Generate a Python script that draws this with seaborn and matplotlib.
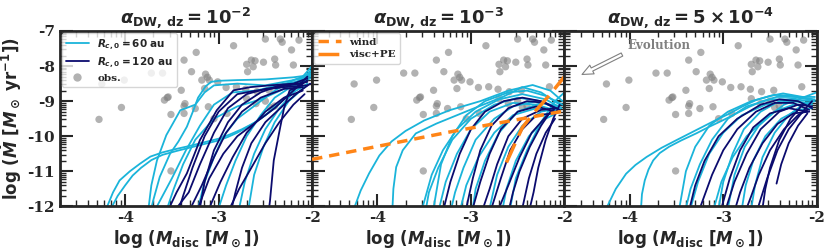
import numpy as np
import pandas as pd
import matplotlib
matplotlib.use("Agg")
import matplotlib.pyplot as plt
from matplotlib.lines import Line2D
from matplotlib.ticker import FuncFormatter, LogLocator, NullFormatter
import seaborn as sns

sns.set_style("ticks")
plt.rcParams["font.family"] = ["DejaVu Serif"]
plt.rcParams["font.weight"] = "bold"
plt.rcParams["axes.labelweight"] = "bold"
plt.rcParams["axes.titleweight"] = "bold"
plt.rcParams["mathtext.fontset"] = "custom"
plt.rcParams["mathtext.rm"] = "DejaVu Sans:bold"
plt.rcParams["mathtext.bf"] = "DejaVu Sans:bold"
plt.rcParams["mathtext.it"] = "DejaVu Sans:italic:bold"

LIGHT = "#1ab4da"
DARK = "#0b0b6e"
ORANGE = "#ff8517"

titles = [r"$\alpha_{\rm DW,\,dz} = 10^{-2}$",
          r"$\alpha_{\rm DW,\,dz} = 10^{-3}$",
          r"$\alpha_{\rm DW,\,dz} = 5 \times 10^{-4}$"]

# observations (log10 M_disc, log10 Mdot)
obs_logm = [-2.84, -2.50, -2.34, -2.32, -2.14, -3.24, -2.22, -3.37, -2.65, -2.61,
            -2.52, -2.40, -2.70, -2.63, -2.39, -2.20, -3.72, -3.60, -3.29, -3.14,
            -3.12, -3.18, -3.10, -3.01, -2.69, -4.01, -4.25, -3.40, -3.15, -2.92,
            -2.81, -2.71, -2.59, -2.46, -2.16, -3.55, -3.54, -3.58, -3.36, -3.37,
            -3.25, -3.11, -4.04, -2.70, -2.60, -2.50, -2.45, -2.40, -3.51, -3.37,
            -3.05, -2.91, -4.28, -3.51]
obs_logmdot = [-7.42, -7.23, -7.23, -7.32, -7.26, -7.61, -7.54, -7.83, -7.83, -7.85,
               -7.89, -7.80, -7.95, -8.02, -7.97, -7.97, -8.20, -8.20, -8.16, -8.23,
               -8.32, -8.40, -8.40, -8.45, -8.16, -8.40, -8.51, -8.69, -8.64, -8.61,
               -8.59, -8.66, -8.73, -8.69, -8.59, -8.90, -8.88, -8.97, -9.07, -9.14,
               -9.21, -9.16, -9.18, -8.93, -9.07, -9.00, -9.18, -9.14, -9.38, -9.35,
               -9.50, -9.35, -9.52, -10.99]

# model tracks, [log M_disc, log Mdot] pairs
p1_light = [
    [[-2.00, -8.00], [-2.05, -8.15], [-2.10, -8.30], [-2.18, -8.55], [-2.25, -8.80], [-2.38, -9.12], [-2.50, -9.40], [-2.62, -9.62], [-2.75, -9.80], [-2.88, -9.95], [-3.00, -10.07], [-3.15, -10.17], [-3.30, -10.27], [-3.45, -10.36], [-3.60, -10.46], [-3.73, -10.58], [-3.84, -10.78], [-3.95, -11.00], [-4.06, -11.26], [-4.13, -11.60], [-4.20, -12.05]],
    [[-2.00, -8.10], [-2.06, -8.28], [-2.12, -8.45], [-2.20, -8.70], [-2.30, -8.95], [-2.42, -9.24], [-2.55, -9.50], [-2.68, -9.72], [-2.80, -9.90], [-2.90, -10.02], [-3.00, -10.12], [-3.15, -10.22], [-3.30, -10.32], [-3.45, -10.42], [-3.60, -10.53], [-3.72, -10.68], [-3.83, -10.90], [-3.92, -11.12], [-4.00, -11.40], [-4.08, -11.70], [-4.15, -12.05]],
    [[-2.00, -8.25], [-2.20, -8.32], [-2.50, -8.38], [-2.80, -8.40], [-3.00, -8.42], [-3.08, -8.45], [-3.14, -8.58], [-3.22, -8.90], [-3.27, -9.26], [-3.34, -9.73], [-3.43, -10.15], [-3.52, -10.50], [-3.63, -11.16], [-3.70, -11.83], [-3.72, -12.05]],
    [[-2.02, -8.30], [-2.20, -8.40], [-2.50, -8.55], [-2.80, -8.50], [-3.05, -8.55], [-3.15, -8.75], [-3.25, -9.10], [-3.41, -9.26], [-3.56, -9.97], [-3.66, -10.69], [-3.72, -11.40], [-3.75, -12.05]],
    [[-2.05, -8.40], [-2.30, -8.50], [-2.60, -8.70], [-2.85, -8.75], [-3.05, -9.10], [-3.20, -9.70], [-3.35, -10.40], [-3.50, -11.20], [-3.60, -11.70], [-3.67, -12.05]],
    [[-2.00, -8.20], [-2.20, -8.40], [-2.40, -8.70], [-2.60, -9.10], [-2.80, -9.50], [-2.95, -10.00], [-3.05, -10.60], [-3.15, -11.30], [-3.22, -12.05]],
    [[-2.02, -8.35], [-2.20, -8.55], [-2.40, -8.90], [-2.55, -9.40], [-2.70, -10.00], [-2.82, -10.70], [-2.92, -11.40], [-3.00, -12.05]],
    [[-2.05, -8.50], [-2.20, -8.75], [-2.35, -9.20], [-2.50, -9.80], [-2.62, -10.50], [-2.72, -11.30], [-2.78, -12.05]],
    [[-2.08, -8.60], [-2.25, -9.00], [-2.40, -9.60], [-2.52, -10.30], [-2.62, -11.10], [-2.68, -12.05]],
    [[-2.00, -8.10], [-2.10, -8.35], [-2.30, -8.65], [-2.55, -8.95], [-2.80, -9.15], [-3.05, -9.50], [-3.25, -10.10], [-3.38, -10.80], [-3.48, -11.50], [-3.55, -12.05]],
]
p1_dark = [
    [[-2.05, -8.35], [-2.20, -8.50], [-2.45, -8.55], [-2.66, -8.60], [-2.84, -8.69], [-3.02, -9.26], [-3.20, -10.11], [-3.34, -11.06], [-3.45, -11.60], [-3.53, -12.05]],
    [[-2.05, -8.45], [-2.25, -8.55], [-2.50, -8.65], [-2.70, -8.80], [-2.90, -9.20], [-3.05, -9.90], [-3.20, -10.80], [-3.32, -11.60], [-3.45, -12.05]],
    [[-2.10, -8.60], [-2.30, -8.65], [-2.55, -8.90], [-2.75, -9.30], [-2.92, -9.90], [-3.05, -10.60], [-3.18, -11.40], [-3.30, -12.05]],
    [[-2.05, -8.30], [-2.20, -8.70], [-2.40, -9.20], [-2.60, -9.60], [-2.80, -10.00], [-2.95, -10.50], [-3.10, -11.20], [-3.22, -12.05]],
    [[-2.10, -8.70], [-2.30, -8.90], [-2.50, -9.30], [-2.70, -9.90], [-2.85, -10.60], [-2.98, -11.30], [-3.10, -12.05]],
    [[-2.08, -8.80], [-2.20, -9.10], [-2.35, -9.60], [-2.50, -10.20], [-2.65, -10.90], [-2.78, -11.50], [-2.88, -12.05]],
    [[-2.05, -8.40], [-2.15, -8.60], [-2.24, -8.69], [-2.30, -9.20], [-2.34, -9.73], [-2.41, -10.69], [-2.45, -11.83], [-2.46, -12.05]],
    [[-2.02, -8.50], [-2.15, -8.75], [-2.30, -9.10], [-2.50, -9.60], [-2.65, -10.20], [-2.75, -10.90], [-2.82, -11.60], [-2.86, -12.05]],
    [[-2.05, -8.55], [-2.30, -8.60], [-2.60, -8.70], [-2.80, -8.80], [-3.00, -9.30], [-3.15, -10.00], [-3.28, -10.90], [-3.38, -11.70], [-3.42, -12.05]],
    [[-2.10, -8.50], [-2.35, -8.55], [-2.55, -8.75], [-2.75, -9.10], [-2.90, -9.60], [-3.05, -10.40], [-3.15, -11.30], [-3.20, -12.05]],
]
p2_light = [
    [[-2.02, -9.00], [-2.15, -8.70], [-2.34, -8.54], [-2.60, -8.70], [-2.90, -9.00], [-3.23, -9.26], [-3.50, -9.55], [-3.70, -9.85], [-3.85, -10.15], [-3.98, -10.55], [-4.09, -11.06], [-4.18, -11.55], [-4.25, -12.05]],
    [[-2.05, -9.10], [-2.25, -8.75], [-2.45, -8.60], [-2.66, -8.88], [-3.02, -9.26], [-3.37, -9.64], [-3.59, -9.92], [-3.73, -10.40], [-3.80, -10.88], [-3.83, -11.50], [-3.84, -12.05]],
    [[-2.03, -9.20], [-2.20, -8.95], [-2.45, -8.80], [-2.70, -8.95], [-2.95, -9.30], [-3.15, -9.80], [-3.30, -10.40], [-3.42, -11.10], [-3.52, -12.05]],
    [[-2.05, -9.25], [-2.25, -9.00], [-2.50, -8.90], [-2.75, -9.10], [-3.00, -9.50], [-3.20, -10.10], [-3.35, -10.90], [-3.45, -11.60], [-3.48, -12.05]],
    [[-2.02, -9.10], [-2.20, -8.85], [-2.40, -8.70], [-2.60, -8.75], [-2.85, -9.00], [-3.05, -9.40], [-3.20, -10.00], [-3.32, -10.80], [-3.40, -12.05]],
    [[-2.05, -9.30], [-2.30, -9.10], [-2.55, -9.05], [-2.80, -9.30], [-3.00, -9.80], [-3.15, -10.50], [-3.27, -11.30], [-3.34, -12.05]],
    [[-2.05, -9.20], [-2.30, -9.00], [-2.55, -9.15], [-2.75, -9.50], [-2.95, -10.10], [-3.08, -10.90], [-3.17, -11.60], [-3.21, -12.05]],
    [[-2.08, -9.30], [-2.30, -9.20], [-2.55, -9.40], [-2.75, -9.90], [-2.92, -10.60], [-3.05, -11.40], [-3.11, -12.05]],
    [[-2.05, -9.15], [-2.25, -9.05], [-2.50, -9.30], [-2.70, -9.90], [-2.85, -10.70], [-2.95, -11.50], [-2.98, -12.05]],
    [[-2.05, -9.20], [-2.25, -9.30], [-2.45, -9.70], [-2.60, -10.30], [-2.72, -11.10], [-2.80, -12.05]],
    [[-2.05, -9.30], [-2.20, -9.50], [-2.38, -10.00], [-2.52, -10.70], [-2.62, -11.50], [-2.66, -12.05]],
    [[-2.00, -8.75], [-2.10, -9.00], [-2.25, -9.60], [-2.40, -10.40], [-2.52, -11.20], [-2.58, -12.05]],
]
p2_dark = [
    [[-2.10, -9.20], [-2.25, -9.00], [-2.45, -8.90], [-2.65, -9.00], [-2.85, -9.30], [-3.00, -9.80], [-3.12, -10.50], [-3.22, -11.30], [-3.29, -12.05]],
    [[-2.05, -9.25], [-2.20, -9.05], [-2.40, -9.00], [-2.60, -9.20], [-2.78, -9.70], [-2.90, -10.40], [-2.98, -11.20], [-3.05, -12.05]],
    [[-2.10, -9.30], [-2.30, -9.15], [-2.50, -9.30], [-2.68, -9.80], [-2.80, -10.50], [-2.90, -11.30], [-2.98, -12.05]],
    [[-2.08, -9.20], [-2.25, -9.25], [-2.45, -9.50], [-2.60, -10.00], [-2.72, -10.80], [-2.80, -11.50], [-2.87, -12.05]],
    [[-2.12, -9.35], [-2.30, -9.40], [-2.45, -9.80], [-2.58, -10.40], [-2.68, -11.20], [-2.78, -12.05]],
    [[-2.10, -9.20], [-2.20, -9.45], [-2.35, -9.90], [-2.48, -10.60], [-2.60, -11.40], [-2.70, -12.05]],
    [[-2.15, -9.30], [-2.25, -9.70], [-2.37, -10.30], [-2.48, -11.00], [-2.55, -11.60], [-2.59, -12.05]],
    [[-2.10, -9.50], [-2.20, -9.90], [-2.30, -10.50], [-2.38, -11.20], [-2.45, -12.05]],
    [[-2.05, -9.10], [-2.12, -9.50], [-2.20, -10.10], [-2.28, -10.90], [-2.33, -11.60], [-2.37, -12.05]],
]
p3_light = [
    [[-2.02, -8.88], [-2.15, -8.88], [-2.36, -8.78], [-2.50, -8.85], [-2.65, -8.97], [-2.80, -9.16], [-2.93, -9.35], [-3.08, -9.54], [-3.22, -9.73], [-3.36, -9.92], [-3.50, -10.11], [-3.66, -10.33], [-3.82, -10.59], [-3.94, -10.82], [-4.04, -11.07], [-4.15, -11.50], [-4.25, -12.05]],
    [[-2.04, -8.97], [-2.22, -8.88], [-2.43, -8.88], [-2.58, -9.00], [-2.72, -9.16], [-2.86, -9.35], [-3.00, -9.54], [-3.15, -9.73], [-3.29, -9.92], [-3.45, -10.12], [-3.58, -10.30], [-3.68, -10.48], [-3.75, -10.69], [-3.80, -10.95], [-3.84, -11.26], [-3.87, -11.65], [-3.88, -12.05]],
    [[-2.05, -8.95], [-2.25, -8.85], [-2.45, -8.82], [-2.70, -9.00], [-2.95, -9.30], [-3.15, -9.70], [-3.30, -10.30], [-3.40, -11.00], [-3.47, -12.05]],
    [[-2.03, -9.00], [-2.25, -8.95], [-2.50, -8.95], [-2.75, -9.15], [-2.95, -9.50], [-3.12, -10.10], [-3.25, -10.80], [-3.35, -11.50], [-3.40, -12.05]],
    [[-2.05, -9.05], [-2.30, -9.00], [-2.55, -9.10], [-2.80, -9.40], [-3.00, -9.90], [-3.15, -10.50], [-3.27, -11.30], [-3.35, -12.05]],
    [[-2.02, -8.95], [-2.20, -8.90], [-2.40, -9.00], [-2.60, -9.30], [-2.78, -9.80], [-2.90, -10.50], [-3.00, -11.30], [-3.05, -12.05]],
    [[-2.05, -9.10], [-2.25, -9.10], [-2.45, -9.30], [-2.62, -9.70], [-2.77, -10.30], [-2.88, -11.10], [-2.95, -12.05]],
    [[-2.05, -9.20], [-2.20, -9.25], [-2.38, -9.50], [-2.55, -10.00], [-2.68, -10.70], [-2.76, -11.40], [-2.80, -12.05]],
    [[-2.02, -9.00], [-2.15, -9.10], [-2.30, -9.40], [-2.45, -9.90], [-2.58, -10.60], [-2.66, -11.40], [-2.70, -12.05]],
    [[-2.00, -8.75], [-2.15, -8.90], [-2.35, -9.10], [-2.55, -9.50], [-2.75, -10.00], [-2.90, -10.60], [-3.02, -11.30], [-3.10, -12.05]],
]
p3_dark = [
    [[-2.05, -9.20], [-2.20, -9.00], [-2.40, -8.95], [-2.60, -9.10], [-2.85, -9.50], [-3.05, -10.00], [-3.20, -10.70], [-3.30, -11.40], [-3.36, -12.05]],
    [[-2.08, -9.25], [-2.25, -9.05], [-2.45, -9.05], [-2.65, -9.30], [-2.85, -9.80], [-3.00, -10.40], [-3.12, -11.10], [-3.25, -12.05]],
    [[-2.10, -9.30], [-2.30, -9.20], [-2.50, -9.35], [-2.68, -9.75], [-2.82, -10.40], [-2.93, -11.20], [-3.02, -12.05]],
    [[-2.05, -9.15], [-2.20, -9.10], [-2.40, -9.30], [-2.60, -9.80], [-2.75, -10.50], [-2.88, -11.30], [-2.97, -12.05]],
    [[-2.08, -9.30], [-2.25, -9.35], [-2.42, -9.65], [-2.58, -10.20], [-2.72, -10.90], [-2.82, -11.60], [-2.87, -12.05]],
    [[-2.10, -9.25], [-2.20, -9.40], [-2.35, -9.80], [-2.50, -10.40], [-2.62, -11.10], [-2.70, -11.70], [-2.75, -12.05]],
    [[-2.05, -9.00], [-2.15, -9.30], [-2.30, -9.80], [-2.42, -10.40], [-2.53, -11.20], [-2.63, -12.05]],
    [[-2.10, -9.35], [-2.20, -9.70], [-2.30, -10.20], [-2.38, -10.80], [-2.43, -11.35]],
    [[-2.15, -9.10], [-2.28, -9.50], [-2.40, -10.10], [-2.50, -10.90], [-2.55, -11.50], [-2.58, -12.05]],
]

# analytic comparison tracks in panel 2
wind_logm = [-4.70, -3.23, -2.00]
wind_logmdot = [-10.66, -9.88, -9.28]
viscpe_logm = [-2.62, -2.45, -2.30, -2.15, -2.00]
viscpe_logmdot = [-10.75, -9.75, -9.25, -8.80, -8.30]

panels = [(p1_light, p1_dark), (p2_light, p2_dark), (p3_light, p3_dark)]

rows = []
for pi, (light, dark) in enumerate(panels):
    for grp, curves in (("60", light), ("120", dark)):
        for ci, pts in enumerate(curves):
            for lm, lmd in pts:
                rows.append({"panel": pi, "Rc": grp, "cid": f"{grp}_{ci}",
                             "M": 10 ** lm, "Mdot": 10 ** lmd})
tracks = pd.DataFrame(rows)
obs = pd.DataFrame({"M": 10 ** np.array(obs_logm), "Mdot": 10 ** np.array(obs_logmdot)})

fig, axes = plt.subplots(1, 3, figsize=(8.3, 2.52), dpi=100, sharey=True)
fig.subplots_adjust(left=0.072, right=0.984, top=0.877, bottom=0.181, wspace=0)

fmt = FuncFormatter(lambda v, p: f"{int(round(np.log10(v)))}")
for pi, ax in enumerate(axes):
    ax.set_xscale("log")
    ax.set_yscale("log")
    sns.scatterplot(data=obs, x="M", y="Mdot", color="grey", alpha=0.6, s=28,
                    edgecolor="none", ax=ax, zorder=1)
    sns.lineplot(data=tracks[tracks.panel == pi], x="M", y="Mdot", hue="Rc",
                 units="cid", estimator=None, sort=False,
                 palette={"60": LIGHT, "120": DARK}, lw=1.3, legend=False,
                 ax=ax, zorder=2)
    ax.set_xlim(10 ** -4.70, 1e-2)
    ax.set_ylim(1e-12, 1e-7)
    ax.xaxis.set_major_locator(LogLocator(base=10, numticks=10))
    ax.xaxis.set_minor_locator(LogLocator(base=10, subs=np.arange(2, 10), numticks=20))
    ax.yaxis.set_minor_locator(LogLocator(base=10, subs=np.arange(2, 10), numticks=20))
    ax.xaxis.set_major_formatter(fmt)
    ax.yaxis.set_major_formatter(fmt)
    ax.xaxis.set_minor_formatter(NullFormatter())
    ax.yaxis.set_minor_formatter(NullFormatter())
    ax.tick_params(which="both", direction="in", top=True, right=True,
                   labelsize=11)
    ax.tick_params(which="major", length=9, width=1.5)
    ax.tick_params(which="minor", length=4.5, width=1)
    if pi > 0:
        ax.tick_params(labelleft=False)
    for s in ax.spines.values():
        s.set_linewidth(2)
    ax.set_title(titles[pi], fontsize=13, pad=6)
    ax.set_xlabel(r"log ($M_{\rm disc}$ [$M_\odot$])", family="DejaVu Sans",
                  fontsize=12, weight="bold", labelpad=2)
    ax.set_ylabel("")

axes[0].set_ylabel(r"log ($\dot{M}$ [$M_\odot$ yr$^{-1}$])", family="DejaVu Sans",
                   fontsize=12, weight="bold", labelpad=2)

axes[1].plot(10 ** np.array(wind_logm), 10 ** np.array(wind_logmdot), color=ORANGE,
             lw=2.5, ls=(0, (3, 2)), zorder=3)
axes[1].plot(10 ** np.array(viscpe_logm), 10 ** np.array(viscpe_logmdot), color=ORANGE,
             lw=2.5, ls=(0, (6, 2.5)), zorder=3)

h1 = [Line2D([], [], color=LIGHT, lw=1.3),
      Line2D([], [], color=DARK, lw=1.3),
      Line2D([], [], color="grey", alpha=0.6, marker="o", ls="none", markersize=6,
             markeredgecolor="none")]
axes[0].legend(h1, [r"$R_{c,0} = 60\ \rm au$", r"$R_{c,0} = 120\ \rm au$", "obs."],
               loc="upper left", fontsize=7.5, handlelength=2.2,
               borderaxespad=0.2, labelspacing=0.35)
h2 = [Line2D([], [], color=ORANGE, lw=2.5, ls=(0, (3, 2))),
      Line2D([], [], color=ORANGE, lw=2.5, ls=(0, (6, 2.5)))]
axes[1].legend(h2, ["wind", "visc+PE"], loc="upper left", fontsize=7.5,
               handlelength=2.2, borderaxespad=0.2, labelspacing=0.35)

axes[2].annotate("", xy=(0.06, 0.745), xytext=(0.238, 0.873), xycoords="axes fraction",
                 arrowprops=dict(arrowstyle="simple,head_width=0.7,head_length=0.8,tail_width=0.25",
                                 fc="white", ec="grey", lw=0.8))
axes[2].text(0.25, 0.915, "Evolution", transform=axes[2].transAxes, color="grey",
             fontsize=8.5, weight="bold", va="center")

fig.canvas.draw()
for ax in axes:
    plt.setp(ax.get_xticklabels() + ax.get_yticklabels(), fontweight="bold",
             family="DejaVu Serif")

fig.savefig("out.png", dpi=100)
